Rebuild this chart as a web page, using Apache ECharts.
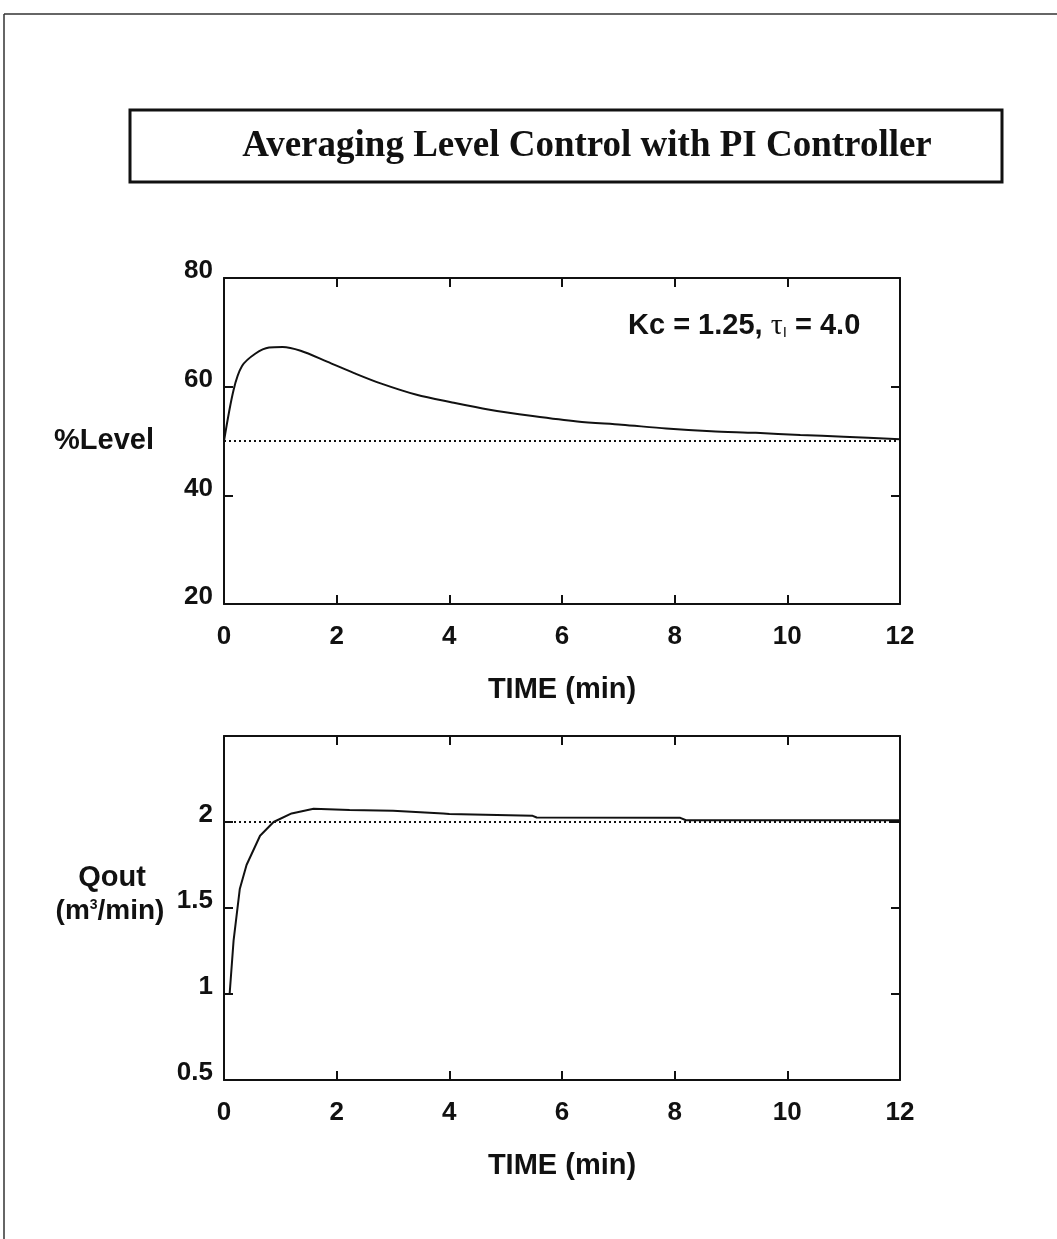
<!DOCTYPE html>
<html>
<head>
<meta charset="utf-8">
<script src="https://cdn.jsdelivr.net/npm/echarts@6/dist/echarts.min.js"></script>
<style>
  html, body { margin: 0; padding: 0; background: #fff; }
  #chart { width: 1057px; height: 1239px; }
</style>
</head>
<body>
<div id="chart"></div>
<script>
// %Level response
const levelTime = [0, 0.17, 0.32, 0.56, 0.8, 1.04, 1.36, 1.83, 2.31, 2.78, 3.42, 4.05, 4.69, 5.48, 6.27, 7.06, 7.85, 8.65, 9.44, 10.23, 11.0, 12]
const levelValues = [50, 59.4, 63.8, 66.1, 67.2, 67.3, 66.6, 64.6, 62.5, 60.6, 58.5, 57.1, 55.8, 54.6, 53.6, 53.0, 52.3, 51.8, 51.5, 51.1, 50.8, 50.3]
const levelSetpoint = 50

// Qout response
const flowTime = [0, 0.1, 0.17, 0.28, 0.4, 0.64, 0.88, 1.2, 1.59, 2.23, 3.0, 3.02, 3.89, 4.0, 5.48, 5.55, 8.1, 8.2, 12]
const flowValues = [1, 1, 1.31, 1.61, 1.75, 1.92, 2.0, 2.05, 2.077, 2.07, 2.066, 2.056, 2.05, 2.046, 2.036, 2.026, 2.024, 2.01, 2.01]
const flowSetpoint = 2

const timeTicks = { min: 0, max: 12, interval: 2 }
const levelTicks = { min: 20, max: 80, interval: 20 }
const flowTicks = { min: 0.5, max: 2.5, interval: 0.5 }

const FONT = "Liberation Sans"
const black = "#111"

function pairs(xs, ys) {
  return xs.map((x, i) => [x, ys[i]])
}

const axisLineStyle = { onZero: false, lineStyle: { color: black, width: 2 } }
const tickStyle = { show: true, inside: true, length: 9, lineStyle: { color: black, width: 2 } }

function bottomX(gridIndex) {
  return {
    type: "value",
    gridIndex,
    ...timeTicks,
    name: "TIME (min)",
    nameLocation: "middle",
    nameGap: 71,
    nameTextStyle: { fontFamily: FONT, fontWeight: "bold", fontSize: 29, color: black },
    axisLine: axisLineStyle,
    axisTick: tickStyle,
    axisLabel: { margin: 20, fontFamily: FONT, fontWeight: "bold", fontSize: 26, color: black },
    splitLine: { show: false }
  }
}

function topX(gridIndex) {
  return {
    type: "value",
    gridIndex,
    position: "top",
    ...timeTicks,
    axisLine: axisLineStyle,
    axisTick: tickStyle,
    axisLabel: { show: false },
    splitLine: { show: false }
  }
}

function leftY(gridIndex, ticks, showMax) {
  return {
    type: "value",
    gridIndex,
    ...ticks,
    axisLine: { show: true, ...axisLineStyle },
    axisTick: tickStyle,
    axisLabel: {
      margin: 11, fontFamily: FONT, fontWeight: "bold", fontSize: 26, color: black,
      verticalAlign: "bottom", lineHeight: 14, showMaxLabel: showMax
    },
    splitLine: { show: false }
  }
}

function rightY(gridIndex, ticks) {
  return {
    type: "value",
    gridIndex,
    position: "right",
    ...ticks,
    axisLine: { show: true, ...axisLineStyle },
    axisTick: tickStyle,
    axisLabel: { show: false },
    splitLine: { show: false }
  }
}

const lineText = { fontFamily: FONT, fontWeight: "bold", fontSize: 29, fill: black }

const option = {
  backgroundColor: "#fff",
  animation: false,
  grid: [
    { left: 224, top: 278, width: 676, height: 326 },
    { left: 224, top: 736, width: 676, height: 344 }
  ],
  xAxis: [bottomX(0), topX(0), bottomX(1), topX(1)],
  yAxis: [leftY(0, levelTicks, true), rightY(0, levelTicks), leftY(1, flowTicks, false), rightY(1, flowTicks)],
  series: [
    {
      name: "setpoint level",
      type: "line",
      xAxisIndex: 0,
      yAxisIndex: 0,
      showSymbol: false,
      data: [[timeTicks.min, levelSetpoint], [timeTicks.max, levelSetpoint]],
      lineStyle: { color: black, width: 2, type: [2, 3] }
    },
    {
      name: "%Level",
      type: "line",
      xAxisIndex: 0,
      yAxisIndex: 0,
      showSymbol: false,
      smooth: 0.3,
      data: pairs(levelTime, levelValues),
      lineStyle: { color: black, width: 2 }
    },
    {
      name: "setpoint flow",
      type: "line",
      xAxisIndex: 2,
      yAxisIndex: 2,
      showSymbol: false,
      data: [[timeTicks.min, flowSetpoint], [timeTicks.max, flowSetpoint]],
      lineStyle: { color: black, width: 2, type: [2, 3] }
    },
    {
      name: "Qout",
      type: "line",
      xAxisIndex: 2,
      yAxisIndex: 2,
      showSymbol: false,
      data: pairs(flowTime, flowValues),
      lineStyle: { color: black, width: 2 }
    }
  ],
  graphic: [
    // page frame
    { type: "line", shape: { x1: 4, y1: 14, x2: 1057, y2: 14 }, style: { stroke: "#333", lineWidth: 1.5 } },
    { type: "line", shape: { x1: 4, y1: 14, x2: 4, y2: 1239 }, style: { stroke: "#333", lineWidth: 1.5 } },
    // title box
    { type: "rect", shape: { x: 130, y: 110, width: 872, height: 72 }, style: { fill: "none", stroke: black, lineWidth: 3 } },
    {
      type: "text", x: 587, y: 146,
      style: {
        text: "Averaging Level Control with PI Controller",
        fontFamily: "Liberation Serif", fontWeight: "bold", fontSize: 37, fill: black,
        align: "center", verticalAlign: "middle"
      }
    },
    // annotation
    {
      type: "text", x: 628, y: 326,
      style: {
        text: "Kc = 1.25, {tau|τ}{sub|I} = 4.0",
        ...lineText,
        verticalAlign: "middle",
        rich: {
          tau: { fontFamily: "Liberation Serif", fontSize: 30, fill: black },
          sub: { fontFamily: FONT, fontSize: 15, fill: black, padding: [13, 0, 0, 0] }
        }
      }
    },
    // y axis titles
    { type: "text", x: 104, y: 441, style: { text: "%Level", ...lineText, align: "center", verticalAlign: "middle" } },
    { type: "text", x: 112, y: 878, style: { text: "Qout", ...lineText, align: "center", verticalAlign: "middle" } },
    {
      type: "text", x: 110, y: 911,
      style: {
        text: "(m{sup|3}/min)", fontFamily: FONT, fontWeight: "bold", fontSize: 28, fill: black,
        align: "center", verticalAlign: "middle",
        rich: { sup: { fontFamily: FONT, fontWeight: "bold", fontSize: 14, fill: black, padding: [0, 0, 12, 0] } }
      }
    }
  ]
}

const chart = echarts.init(document.getElementById("chart"))
chart.setOption(option)
window.addEventListener("resize", () => chart.resize())
</script>
</body>
</html>
